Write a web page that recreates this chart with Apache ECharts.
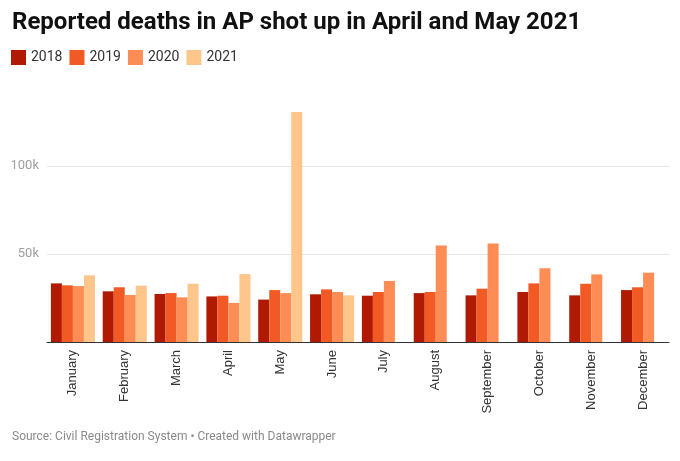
<!DOCTYPE html>
<html>
<head>
<meta charset="utf-8">
<script src="https://cdn.jsdelivr.net/npm/echarts@6/dist/echarts.min.js"></script>
<style>
html,body{margin:0;padding:0;background:#fff;}
#chart{width:680px;height:461px;}
</style>
</head>
<body>
<div id="chart"></div>
<script>
const months = ['January','February','March','April','May','June','July','August','September','October','November','December'];
const years = ['2018','2019','2020','2021'];
const d2018 = [33300, 28800, 27300, 25900, 24100, 27100, 26300, 27800, 26500, 28400, 26500, 29500];
const d2019 = [32200, 31100, 27800, 26300, 29500, 29900, 28400, 28400, 30300, 33300, 33100, 31100];
const d2020 = [31800, 26700, 25400, 22200, 27800, 28400, 34700, 54900, 55900, 41900, 38400, 39400];
const d2021 = [37900, 32000, 33100, 38600, 130700, 26500, null, null, null, null, null, null];
const yTicks = [0, 50000, 100000, 150000];
const colors = ['#b11a02', '#f15a24', '#fe8d55', '#fec68b'];

const chart = echarts.init(document.getElementById('chart'), null, {renderer: 'canvas'});
const seriesData = [d2018, d2019, d2020, d2021];
chart.setOption({
  animation: false,
  title: [{
    text: 'Reported deaths in AP shot up in April and May 2021',
    left: 7, top: 6,
    textStyle: {fontFamily: 'Roboto', fontWeight: 'bold', fontSize: 24, color: '#111'}
  }, {
    text: 'Source: Civil Registration System • Created with Datawrapper',
    left: 7, top: 426,
    textStyle: {fontFamily: 'Roboto', fontWeight: 'normal', fontSize: 12, color: '#8a8a8a'}
  }],
  legend: {
    left: 6, top: 45,
    itemWidth: 15, itemHeight: 15, itemGap: 7,
    icon: 'rect',
    textStyle: {fontFamily: 'Roboto', fontSize: 14, color: '#333'},
    data: years
  },
  grid: {left: 47, right: 11, top: 78, bottom: 119, containLabel: false},
  xAxis: {
    type: 'category',
    data: months,
    axisLine: {lineStyle: {color: '#333', width: 1}},
    axisTick: {show: false},
    axisLabel: {rotate: 90, margin: 8, fontFamily: 'Liberation Sans', fontSize: 13, color: '#333', interval: 0}
  },
  yAxis: {
    type: 'value',
    min: yTicks[0], max: yTicks[yTicks.length - 1], interval: yTicks[1] - yTicks[0],
    axisLine: {show: false},
    axisTick: {show: false},
    axisLabel: {
      margin: 8, fontFamily: 'Roboto', fontSize: 13, color: '#a0a0a0',
      formatter: v => (v === 0 || v >= 150000) ? '' : (v / 1000) + 'k'
    },
    splitLine: {lineStyle: {color: ['#e6e6e6', '#e6e6e6', '#e6e6e6', 'rgba(0,0,0,0)'], width: 1}}
  },
  series: years.map((y, i) => ({
    name: y,
    type: 'bar',
    data: seriesData[i],
    barGap: '0%',
    barCategoryGap: '15%',
    itemStyle: {color: colors[i]}
  }))
});
</script>
</body>
</html>
